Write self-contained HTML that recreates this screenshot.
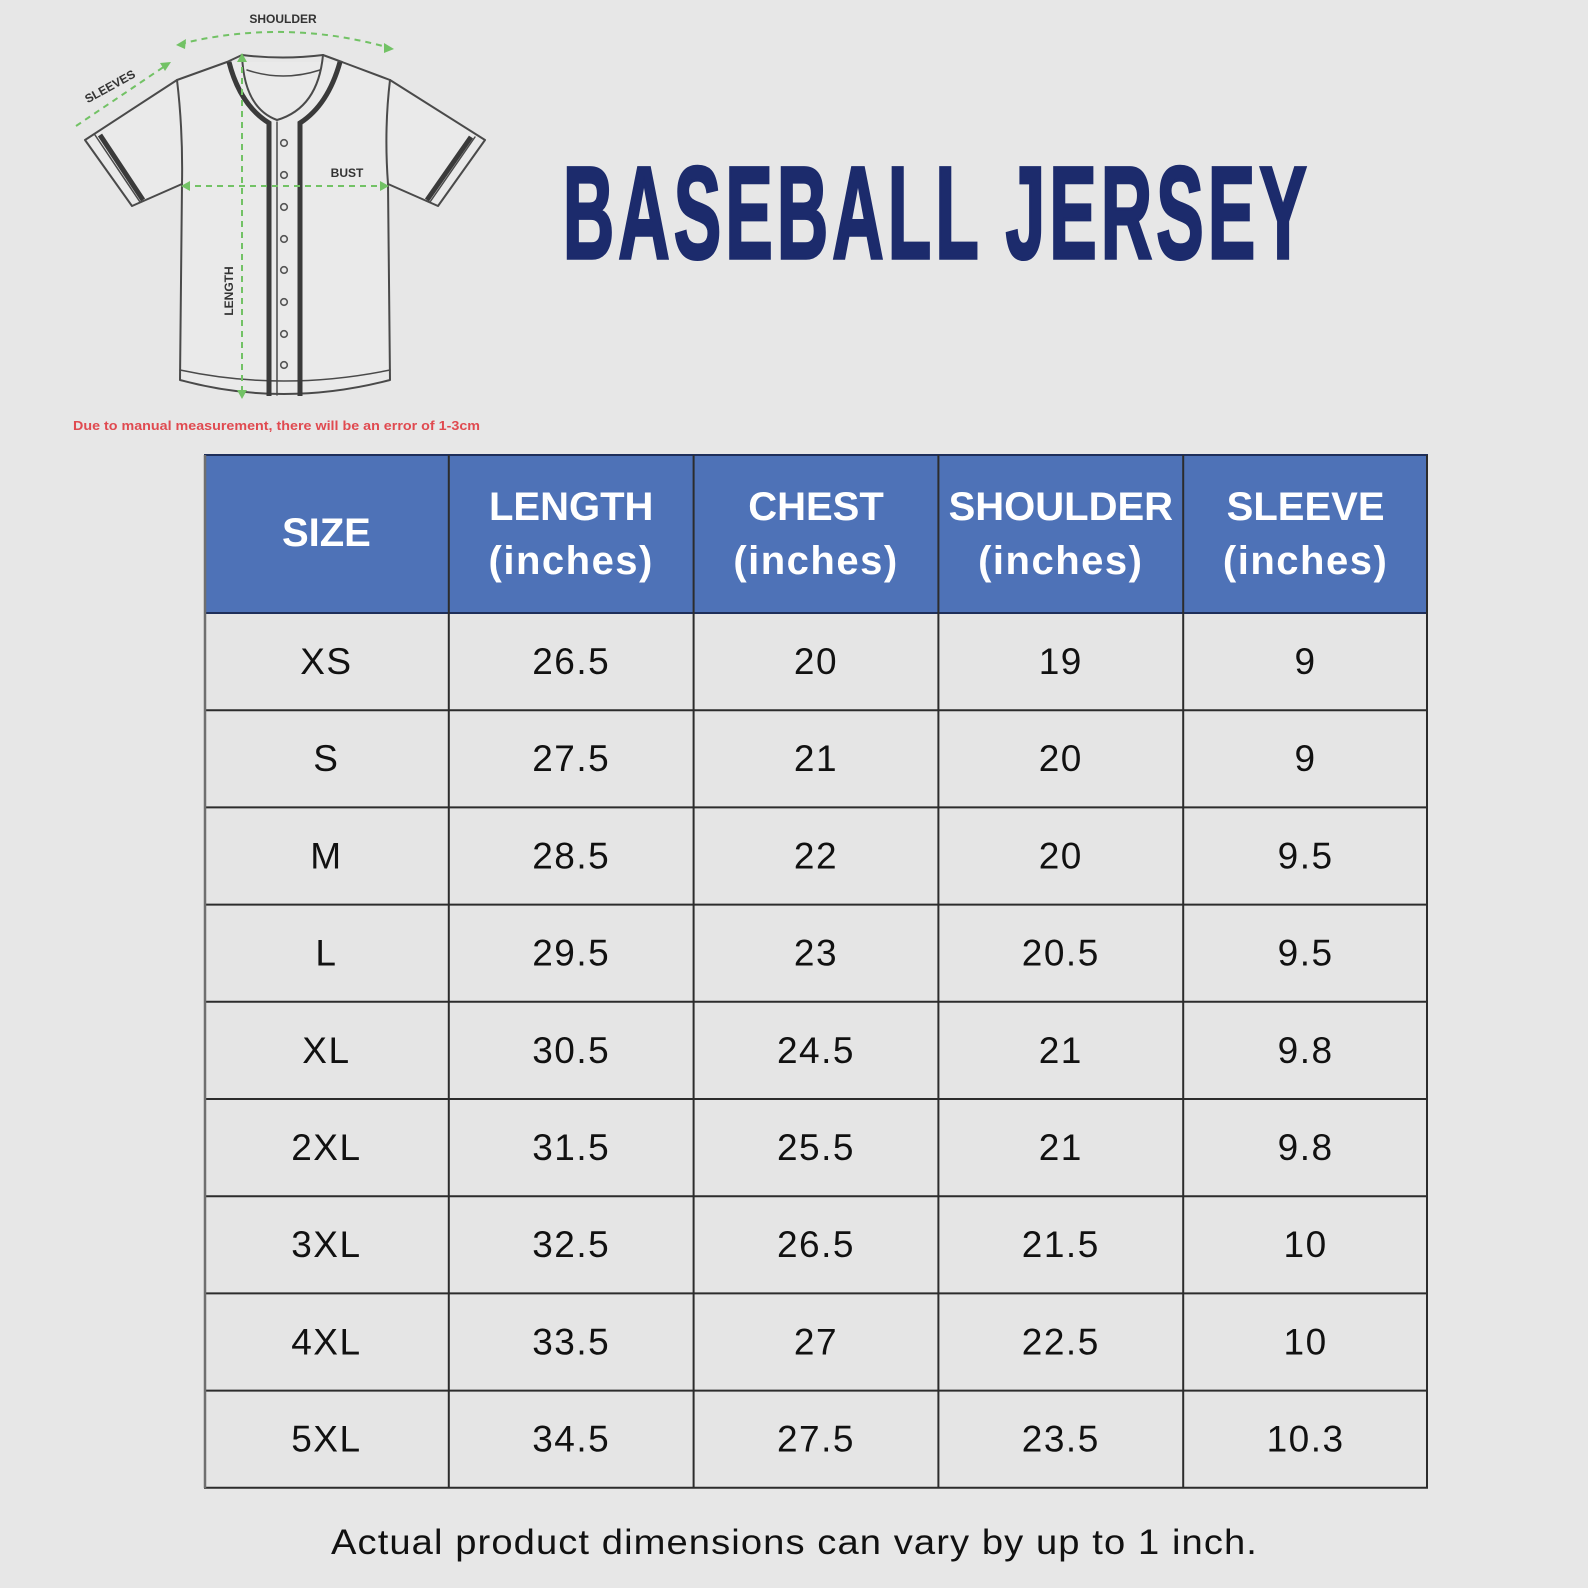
<!DOCTYPE html>
<html>
<head>
<meta charset="utf-8">
<style>
html,body{margin:0;padding:0;background:#e7e7e7;}
svg{display:block;}
</style>
</head>
<body>
<svg width="1588" height="1588" viewBox="0 0 1588 1588" xmlns="http://www.w3.org/2000/svg">
<rect width="1588" height="1588" fill="#e7e7e7"/>

<!-- Jersey illustration -->
<g fill="none" stroke="#4a4a4a" stroke-width="2" stroke-linejoin="round" stroke-linecap="round">
  <path d="M227,62 L177,80 L85,140 L132,206 L182,184 L180,380 Q283,408 390,380 L388,184 L438,206 L485,140 L390,80 L342,62" fill="#eaeaea"/>
  <path d="M227,62 L242,55 Q283,60 323,55 L342,62"/>
  <path d="M242,55 Q244,108 277,120 Q318,108 323,55" />
  <path d="M247,70 Q283,82 320,70" stroke-width="1.5"/>
  <path d="M177,80 Q183,130 182,184"/>
  <path d="M390,80 Q384,130 388,184"/>
  <path d="M180,370 Q283,392 390,370" stroke-width="1.5"/>
  <path d="M277,122 L277,395" stroke-width="1.5"/>
  <path d="M95,135 L140,202" stroke-width="1.5"/>
  <path d="M475,137 L430,202" stroke-width="1.5"/>
</g>
<g fill="none" stroke="#3a3a3a" stroke-width="5" stroke-linecap="butt">
  <path d="M229,62 Q240,105 269,123 L269,396"/>
  <path d="M340,62 Q328,105 300,123 L300,396"/>
  <path d="M100,135 L143,200"/>
  <path d="M471,137 L427,200"/>
</g>
<g fill="#eaeaea" stroke="#555" stroke-width="1.6">
  <circle cx="284" cy="143" r="3.3"/>
  <circle cx="284" cy="175" r="3.3"/>
  <circle cx="284" cy="207" r="3.3"/>
  <circle cx="284" cy="239" r="3.3"/>
  <circle cx="284" cy="270" r="3.3"/>
  <circle cx="284" cy="302" r="3.3"/>
  <circle cx="284" cy="334" r="3.3"/>
  <circle cx="284" cy="365" r="3.3"/>
</g>
<g fill="none" stroke="#72c265" stroke-width="2" stroke-dasharray="6,5">
  <path d="M180,44 Q285,18 390,48"/>
  <path d="M76,126 L168,64"/>
  <path d="M184,186 L386,186"/>
  <path d="M242,56 L242,396"/>
</g>
<g fill="#72c265">
  <polygon points="176,45 186,39 185,49"/>
  <polygon points="394,49 384,43 384,53"/>
  <polygon points="171,62 160,63 165,71"/>
  <polygon points="181,186 190,181 190,191"/>
  <polygon points="389,186 380,181 380,191"/>
  <polygon points="242,53 237,62 247,62"/>
  <polygon points="242,399 237,390 247,390"/>
</g>
<g font-family="Liberation Sans, sans-serif" font-weight="bold" font-size="12" fill="#333">
  <text x="283" y="23" text-anchor="middle">SHOULDER</text>
  <text x="347" y="177" text-anchor="middle">BUST</text>
  <text transform="translate(112,90) rotate(-29)" text-anchor="middle">SLEEVES</text>
  <text transform="translate(233,291) rotate(-90)" text-anchor="middle">LENGTH</text>
</g>
<text x="73" y="430" font-family="Liberation Sans, sans-serif" font-weight="bold" font-size="13" fill="#e04a50" textLength="407" lengthAdjust="spacingAndGlyphs">Due to manual measurement, there will be an error of 1-3cm</text>

<!-- Title -->
<text x="563" y="258" font-family="Liberation Sans, sans-serif" font-weight="bold" font-size="131" letter-spacing="8" fill="#1c2b6c" stroke="#1c2b6c" stroke-width="3.5" stroke-linejoin="miter" textLength="748" lengthAdjust="spacingAndGlyphs">BASEBALL JERSEY</text>

<!-- Table -->
<rect x="204" y="455" width="1224" height="158" fill="#4e72b7"/>
<rect x="204" y="613" width="1224" height="875" fill="#e5e5e5"/>
<g stroke="#2c2c2c" stroke-width="2">
  <line x1="204" y1="455" x2="1428" y2="455" stroke="#1f2f5a"/>
  <line x1="204" y1="613" x2="1428" y2="613" stroke="#1f2f5a"/>
  <line x1="204" y1="710.2" x2="1428" y2="710.2"/>
  <line x1="204" y1="807.4" x2="1428" y2="807.4"/>
  <line x1="204" y1="904.6" x2="1428" y2="904.6"/>
  <line x1="204" y1="1001.8" x2="1428" y2="1001.8"/>
  <line x1="204" y1="1099" x2="1428" y2="1099"/>
  <line x1="204" y1="1196.2" x2="1428" y2="1196.2"/>
  <line x1="204" y1="1293.4" x2="1428" y2="1293.4"/>
  <line x1="204" y1="1390.6" x2="1428" y2="1390.6"/>
  <line x1="204" y1="1487.8" x2="1428" y2="1487.8"/>
  <line x1="448.8" y1="455" x2="448.8" y2="1488"/>
  <line x1="693.6" y1="455" x2="693.6" y2="1488"/>
  <line x1="938.4" y1="455" x2="938.4" y2="1488"/>
  <line x1="1183.2" y1="455" x2="1183.2" y2="1488"/>
  <line x1="1427" y1="455" x2="1427" y2="1488"/>
  <line x1="205" y1="455" x2="205" y2="1488" stroke="#6f6f6f" stroke-width="2.5"/>
</g>
<g font-family="Liberation Sans, sans-serif" font-weight="bold" font-size="40" fill="#ffffff" text-anchor="middle">
  <text x="326.4" y="546">SIZE</text>
  <text x="571.2" y="520">LENGTH</text>
  <text x="571.2" y="574" letter-spacing="1.5">(inches)</text>
  <text x="816" y="520">CHEST</text>
  <text x="816" y="574" letter-spacing="1.5">(inches)</text>
  <text x="1060.8" y="520">SHOULDER</text>
  <text x="1060.8" y="574" letter-spacing="1.5">(inches)</text>
  <text x="1305.6" y="520">SLEEVE</text>
  <text x="1305.6" y="574" letter-spacing="1.5">(inches)</text>
</g>
<g font-family="Liberation Sans, sans-serif" font-size="37" fill="#111" text-anchor="middle" letter-spacing="1.5">
  <text x="326.4" y="674">XS</text><text x="571.2" y="674">26.5</text><text x="816" y="674">20</text><text x="1060.8" y="674">19</text><text x="1305.6" y="674">9</text>
  <text x="326.4" y="771.2">S</text><text x="571.2" y="771.2">27.5</text><text x="816" y="771.2">21</text><text x="1060.8" y="771.2">20</text><text x="1305.6" y="771.2">9</text>
  <text x="326.4" y="868.4">M</text><text x="571.2" y="868.4">28.5</text><text x="816" y="868.4">22</text><text x="1060.8" y="868.4">20</text><text x="1305.6" y="868.4">9.5</text>
  <text x="326.4" y="965.6">L</text><text x="571.2" y="965.6">29.5</text><text x="816" y="965.6">23</text><text x="1060.8" y="965.6">20.5</text><text x="1305.6" y="965.6">9.5</text>
  <text x="326.4" y="1062.8">XL</text><text x="571.2" y="1062.8">30.5</text><text x="816" y="1062.8">24.5</text><text x="1060.8" y="1062.8">21</text><text x="1305.6" y="1062.8">9.8</text>
  <text x="326.4" y="1160">2XL</text><text x="571.2" y="1160">31.5</text><text x="816" y="1160">25.5</text><text x="1060.8" y="1160">21</text><text x="1305.6" y="1160">9.8</text>
  <text x="326.4" y="1257.2">3XL</text><text x="571.2" y="1257.2">32.5</text><text x="816" y="1257.2">26.5</text><text x="1060.8" y="1257.2">21.5</text><text x="1305.6" y="1257.2">10</text>
  <text x="326.4" y="1354.4">4XL</text><text x="571.2" y="1354.4">33.5</text><text x="816" y="1354.4">27</text><text x="1060.8" y="1354.4">22.5</text><text x="1305.6" y="1354.4">10</text>
  <text x="326.4" y="1451.6">5XL</text><text x="571.2" y="1451.6">34.5</text><text x="816" y="1451.6">27.5</text><text x="1060.8" y="1451.6">23.5</text><text x="1305.6" y="1451.6">10.3</text>
</g>

<!-- Footer -->
<text x="331" y="1554" font-family="Liberation Sans, sans-serif" font-size="35" fill="#111" letter-spacing="1" textLength="927" lengthAdjust="spacingAndGlyphs">Actual product dimensions can vary by up to 1 inch.</text>
</svg>
</body>
</html>
